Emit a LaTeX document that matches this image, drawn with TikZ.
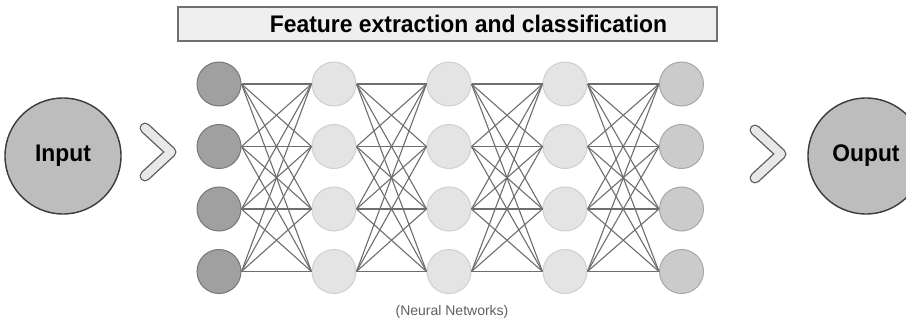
\documentclass[tikz,border=0pt]{standalone}
\usepackage{fontspec}
\setmainfont{Liberation Sans}
\definecolor{bigfill}{HTML}{BDBDBD}
\definecolor{bigline}{HTML}{3A3A3A}
\definecolor{inFill}{HTML}{A0A0A0}
\definecolor{inLine}{HTML}{787878}
\definecolor{hidFill}{HTML}{E4E4E4}
\definecolor{hidLine}{HTML}{D0D0D0}
\definecolor{outFill}{HTML}{CBCBCB}
\definecolor{outLine}{HTML}{A8A8A8}
\definecolor{edge}{HTML}{6E6E6E}
\definecolor{chevLine}{HTML}{5A5A5A}
\definecolor{chevFill}{HTML}{E8E8E8}
\definecolor{titleFill}{HTML}{EFEFEF}
\definecolor{titleLine}{HTML}{707070}
\begin{document}
\begin{tikzpicture}[x=1pt,y=-1pt,
  bigcirc/.style={circle, draw=bigline, fill=bigfill, line width=1.4pt, minimum size=116pt, inner sep=0pt, font=\fontsize{24}{28}\selectfont\bfseries},
  neuron/.style={circle, minimum size=44pt, inner sep=0pt, line width=1pt},
  layerin/.style={neuron, draw=inLine, fill=inFill},
  layerhid/.style={neuron, draw=hidLine, fill=hidFill},
  layerout/.style={neuron, draw=outLine, fill=outFill},
  link/.style={draw=edge, line width=1.1pt},
  chevout/.style={draw=chevLine, line width=11pt, line cap=round, line join=round},
  chevin/.style={draw=chevFill, line width=8.4pt, line cap=round, line join=round},
  titlebox/.style={draw=titleLine, fill=titleFill, line width=1.2pt, minimum width=539pt, minimum height=34pt, inner sep=0pt},
  titletext/.style={inner sep=0pt, anchor=base, font=\fontsize{24}{28}\selectfont\bfseries},
  caption/.style={text=black!62, font=\fontsize{14}{16}\selectfont}
]
\clip (0,0) rectangle (906,321);
\fill[white] (0,0) rectangle (906,321);

% title
\node[titlebox] (title) at (447.5,24) {};
\node[titletext] (titlelabel) at (468.5,32.5) {\scalebox{0.955}[1]{Feature extraction and classification}};

% neurons
\foreach \r [count=\k] in {84,146.5,209,271.5}{
  \node[layerin]  (n1-\k) at (219,\r) {};
  \node[layerhid] (n2-\k) at (334,\r) {};
  \node[layerhid] (n3-\k) at (449,\r) {};
  \node[layerhid] (n4-\k) at (565,\r) {};
  \node[layerout] (n5-\k) at (681.5,\r) {};
}

% connections
\foreach \i/\j in {1/2,2/3,3/4,4/5}{
  \foreach \a in {1,...,4}{
    \foreach \b in {1,...,4}{
      \draw[link] (n\i-\a.east) -- (n\j-\b.west);
    }
  }
}

% big circles
\node[bigcirc] (input) at (63,156) {\scalebox{0.95}[1]{Input}};
\node[bigcirc] (output) at (866,156) {\scalebox{0.95}[1]{Ouput}};

% chevrons
\coordinate (c1a) at (145,128);
\coordinate (c1b) at (171,152);
\coordinate (c1c) at (145,176);
\coordinate (c2a) at (755,130);
\coordinate (c2b) at (781,154);
\coordinate (c2c) at (755,178);
\draw[chevout] (c1a) -- (c1b) -- (c1c);
\draw[chevin] (c1a) -- (c1b) -- (c1c);
\draw[chevout] (c2a) -- (c2b) -- (c2c);
\draw[chevin] (c2a) -- (c2b) -- (c2c);

% caption
\node[caption] (cap) at (452,312) {(Neural Networks)};
\end{tikzpicture}
\end{document}
